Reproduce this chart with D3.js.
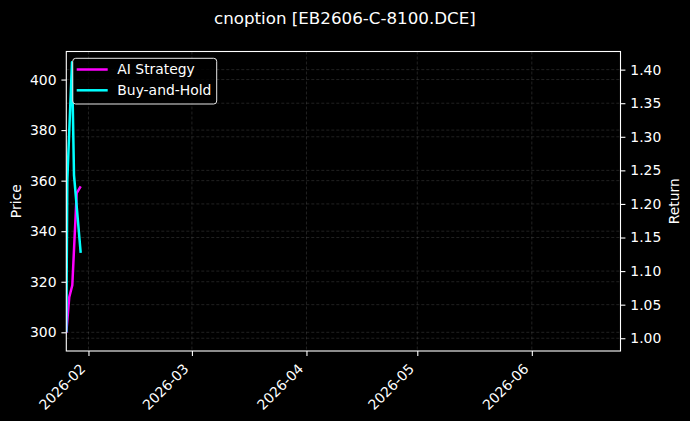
<!DOCTYPE html>
<html>
<head>
<meta charset="utf-8">
<script src="https://cdn.jsdelivr.net/npm/d3@7"></script>
<style>
  html, body { margin: 0; padding: 0; background: #000; }
  svg { display: block; }
  text { font-family: "DejaVu Sans", sans-serif; fill: #fff; }
</style>
</head>
<body>
<svg id="chart" width="690" height="421"></svg>
<script>
// ---- data ----
const title = "cnoption [EB2606-C-8100.DCE]";
const seriesNames = ["AI Strategy", "Buy-and-Hold"];
const seriesColors = ["#ff00ff", "#00ffff"];
const aiDates = ["2026-01-26T00:00", "2026-01-26T19:00", "2026-01-27T15:00", "2026-01-28T19:30", "2026-01-29T21:30"];
const aiValues = [1.008, 1.061, 1.079, 1.216, 1.226];
const bhDates = ["2026-01-26T00:00", "2026-01-26T06:30", "2026-01-27T13:00", "2026-01-28T02:00", "2026-01-29T21:30"];
const bhValues = [1.009, 1.235, 1.411, 1.243, 1.127];
const xDomain = ["2026-01-26T00:00", "2026-06-25T00:00"];
const xTickLabels = ["2026-02", "2026-03", "2026-04", "2026-05", "2026-06"];
const priceDomain = [292.6, 411.1];
const priceTicks = [300, 320, 340, 360, 380, 400];
const returnDomain = [0.981, 1.427];
const returnTicks = [1.00, 1.05, 1.10, 1.15, 1.20, 1.25, 1.30, 1.35, 1.40];

// ---- layout ----
const W = 690, H = 421;
const L = 66.3, R = 620.5, T = 51.5, B = 351;
const svg = d3.select("#chart");
svg.append("rect").attr("width", W).attr("height", H).attr("fill", "#000");

const parseT = d3.timeParse("%Y-%m-%dT%H:%M");
const parseM = d3.timeParse("%Y-%m");
const x = d3.scaleTime().domain(xDomain.map(parseT)).range([L, R]);
const yL = d3.scaleLinear().domain(priceDomain).range([B, T]);
const yR = d3.scaleLinear().domain(returnDomain).range([B, T]);

const FS = 13.9;

// grid
const grid = svg.append("g").attr("stroke", "#ffffff").attr("stroke-opacity", 0.22)
  .attr("stroke-width", 0.6).attr("stroke-dasharray", "3,2");
xTickLabels.forEach(t => {
  const px = x(parseM(t));
  grid.append("line").attr("x1", px).attr("x2", px).attr("y1", T).attr("y2", B);
});
priceTicks.forEach(v => {
  grid.append("line").attr("x1", L).attr("x2", R).attr("y1", yL(v)).attr("y2", yL(v));
});
returnTicks.forEach(v => {
  grid.append("line").attr("x1", L).attr("x2", R).attr("y1", yR(v)).attr("y2", yR(v));
});

// clip
svg.append("clipPath").attr("id", "plotclip").append("rect")
  .attr("x", L).attr("y", T).attr("width", R - L).attr("height", B - T);

// lines
const series = [
  { name: seriesNames[0], color: seriesColors[0], dates: aiDates, values: aiValues },
  { name: seriesNames[1], color: seriesColors[1], dates: bhDates, values: bhValues }
];
const line = d3.line().x(d => x(d[0])).y(d => yR(d[1]));
const plot = svg.append("g").attr("clip-path", "url(#plotclip)");
series.forEach(s => {
  const pts = s.dates.map((d, i) => [parseT(d), s.values[i]]);
  plot.append("path").datum(pts).attr("d", line)
    .attr("fill", "none").attr("stroke", s.color).attr("stroke-width", 2.5)
    .attr("stroke-linejoin", "round");
});

// axes
const axL = d3.axisLeft(yL).tickValues(priceTicks).tickSize(4.9).tickPadding(4.9).tickFormat(d3.format("d"));
const axR = d3.axisRight(yR).tickValues(returnTicks).tickSize(4.9).tickPadding(4.9).tickFormat(d3.format(".2f"));
const axB = d3.axisBottom(x).tickValues(xTickLabels.map(parseM)).tickSize(4.9).tickFormat("");

function styleAxis(g) {
  g.select(".domain").remove();
  g.selectAll(".tick line").attr("stroke", "#fff").attr("stroke-width", 1.1);
  g.selectAll(".tick text").attr("fill", "#fff").style("font-size", FS + "px")
    .style("font-family", "DejaVu Sans, sans-serif");
}
svg.append("g").attr("transform", `translate(${L},0)`).call(axL).call(styleAxis);
svg.append("g").attr("transform", `translate(${R},0)`).call(axR).call(styleAxis);
svg.append("g").attr("transform", `translate(0,${B})`).call(axB).call(styleAxis);

// rotated x tick labels (bbox top-right anchored at tick)
const asc = 0.928 * FS, desc = 0.236 * FS;
xTickLabels.forEach(t => {
  const tx = x(parseM(t)), ty = B + 9.7;
  const ox = tx - desc * 0.707, oy = ty + asc * 0.707;
  svg.append("text").attr("x", 0).attr("y", 0)
    .attr("transform", `translate(${ox},${oy}) rotate(-45)`)
    .attr("text-anchor", "end").style("font-size", FS + "px").text(t);
});

// spines
svg.append("rect").attr("x", L).attr("y", T).attr("width", R - L).attr("height", B - T)
  .attr("fill", "none").attr("stroke", "#fff").attr("stroke-width", 1.1);

// axis labels
svg.append("text").attr("transform", `translate(21,${(T + B) / 2}) rotate(-90)`)
  .attr("text-anchor", "middle").style("font-size", FS + "px").text("Price");
svg.append("text").attr("transform", `translate(679,${(T + B) / 2}) rotate(-90)`)
  .attr("text-anchor", "middle").style("font-size", FS + "px").text("Return");

// title
svg.append("text").attr("x", (L + R) / 2 + 1.5).attr("y", 24)
  .attr("text-anchor", "middle").style("font-size", "16.7px").text(title);

// legend
const lg = svg.append("g");
lg.append("rect").attr("x", 72.7).attr("y", 58.3).attr("width", 144).attr("height", 45.7)
  .attr("rx", 3).attr("fill", "#000").attr("fill-opacity", 0.8)
  .attr("stroke", "#e6e6e6").attr("stroke-width", 1);
series.forEach((s, i) => {
  const cy = 69.5 + i * 20.8;
  lg.append("line").attr("x1", 76.7).attr("x2", 107.7).attr("y1", cy).attr("y2", cy)
    .attr("stroke", s.color).attr("stroke-width", 2.5);
  lg.append("text").attr("x", 117.3).attr("y", cy + 4.9).style("font-size", FS + "px").text(s.name);
});
</script>
</body>
</html>
